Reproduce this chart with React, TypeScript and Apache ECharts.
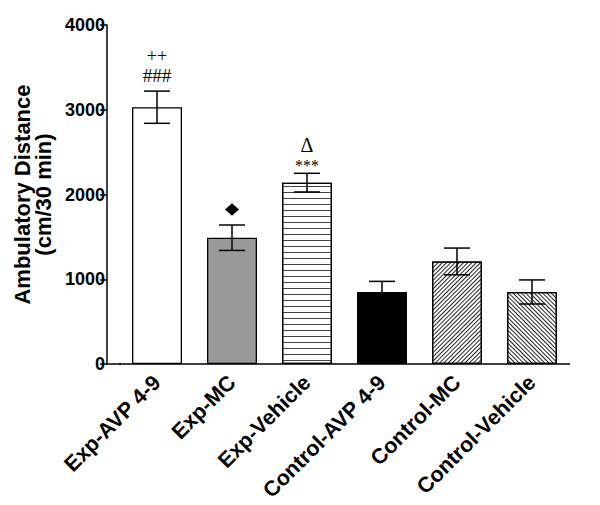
import React, { useEffect, useRef } from "react";
import * as echarts from "echarts";

const categories = [
  "Exp-AVP 4-9",
  "Exp-MC",
  "Exp-Vehicle",
  "Control-AVP 4-9",
  "Control-MC",
  "Control-Vehicle",
];
const means = [3030, 1490, 2140, 850, 1210, 850];
const sems = [190, 150, 110, 125, 158, 142];
// significance marks, listed from the one nearest the error bar upward
const marks: string[][] = [["###", "++"], ["◆"], ["***", "Δ"], [], [], []];
const yMin = 0;
const yMax = 4000;
const yInterval = 1000;

const SERIF = "'Liberation Serif', 'Times New Roman', serif";
const SANS = "'Liberation Sans', Arial, sans-serif";

const markStyle: Record<string, { size: number; dy: number }> = {
  "###": { size: 19, dy: -16 },
  "++": { size: 18, dy: -35 },
  "***": { size: 16, dy: -8 },
  "Δ": { size: 20, dy: -28 },
  "◆": { size: 0, dy: -15.5 },
};

const barStyles: any[] = [
  { color: "#ffffff" },
  { color: "#999999" },
  {
    color: "#ffffff",
    decal: {
      symbol: "rect",
      symbolSize: 1,
      dashArrayX: [[4, 0]],
      dashArrayY: [1, 5],
      rotation: 0,
      color: "#444444",
    },
  },
  { color: "#000000" },
  {
    color: "#ffffff",
    decal: {
      symbol: "rect",
      symbolSize: 1,
      dashArrayX: [[4, 0]],
      dashArrayY: [0.9, 1.9],
      rotation: -Math.PI / 4,
      color: "#222222",
    },
  },
  {
    color: "#ffffff",
    decal: {
      symbol: "rect",
      symbolSize: 1,
      dashArrayX: [[4, 0]],
      dashArrayY: [0.9, 1.9],
      rotation: Math.PI / 4,
      color: "#222222",
    },
  },
];

export default function App() {
  const ref = useRef<HTMLDivElement>(null);
  useEffect(() => {
    if (!ref.current) return;
    const chart = echarts.init(ref.current, undefined, { renderer: "svg" });
    const option: any = {
      animation: false,
      backgroundColor: "#ffffff",
      grid: { left: 119.5, width: 450, top: 25, height: 339, containLabel: false },
      xAxis: {
        type: "category",
        data: categories,
        axisLine: { show: true, lineStyle: { color: "#000", width: 1.5 } },
        axisTick: { show: false },
        axisLabel: {
          interval: 0,
          rotate: 45,
          margin: 15,
          fontFamily: SANS,
          fontWeight: "bold",
          fontSize: 21.5,
          color: "#000",
        },
      },
      yAxis: {
        type: "value",
        min: yMin,
        max: yMax,
        interval: yInterval,
        offset: 12.5,
        name: "Ambulatory Distance\n(cm/30 min)",
        nameLocation: "middle",
        nameRotate: 90,
        nameGap: 37,
        nameTextStyle: {
          fontFamily: SANS,
          fontWeight: "bold",
          fontSize: 22,
          lineHeight: 21,
          color: "#000",
        },
        axisLine: { show: true, lineStyle: { color: "#000", width: 1.5 } },
        axisTick: { show: true, length: 7, lineStyle: { color: "#000", width: 1.5 } },
        axisLabel: {
          margin: 2,
          fontFamily: SANS,
          fontWeight: "bold",
          fontSize: 18,
          color: "#000",
          formatter: (v: number) => String(v),
        },
        splitLine: { show: false },
      },
      graphic: [
        {
          type: "line",
          shape: { x1: 106, y1: 364, x2: 121, y2: 364 },
          style: { stroke: "#000", lineWidth: 1.5 },
          z: 10,
        },
      ],
      series: [
        {
          type: "bar",
          barWidth: 50,
          data: means.map((v, i) => ({
            value: v,
            itemStyle: { ...barStyles[i], borderColor: "#000", borderWidth: 1.3 },
          })),
        },
        {
          type: "custom",
          z: 5,
          data: means.map((m, i) => [i, m, sems[i]]),
          renderItem: (params: any, api: any) => {
            const x = api.value(0);
            const m = api.value(1);
            const s = api.value(2);
            const top = api.coord([x, m + s]);
            const bot = api.coord([x, m - s]);
            const hw = 13;
            const st = { stroke: "#000", lineWidth: 1.5 };
            return {
              type: "group",
              children: [
                { type: "line", shape: { x1: top[0], y1: top[1], x2: bot[0], y2: bot[1] }, style: st },
                { type: "line", shape: { x1: top[0] - hw, y1: top[1], x2: top[0] + hw, y2: top[1] }, style: st },
                { type: "line", shape: { x1: bot[0] - hw, y1: bot[1], x2: bot[0] + hw, y2: bot[1] }, style: st },
              ],
            };
          },
        },
        {
          type: "custom",
          z: 6,
          data: means.map((m, i) => [i, m + sems[i]]),
          renderItem: (params: any, api: any) => {
            const i = params.dataIndex;
            const p = api.coord([api.value(0), api.value(1)]);
            const children: any[] = [];
            marks[i].forEach((t) => {
              const ms = markStyle[t];
              if (t === "◆") {
                const cx = p[0];
                const cy = p[1] + ms.dy;
                children.push({
                  type: "polygon",
                  shape: { points: [[cx, cy - 6.3], [cx + 7, cy], [cx, cy + 6.3], [cx - 7, cy]] },
                  style: { fill: "#000" },
                });
              } else {
                children.push({
                  type: "text",
                  x: p[0],
                  y: p[1] + ms.dy,
                  style: {
                    text: t,
                    fontFamily: SERIF,
                    fontSize: ms.size,
                    fill: "#000",
                    align: "center",
                    verticalAlign: "middle",
                  },
                });
              }
            });
            return { type: "group", children };
          },
        },
      ],
    };
    chart.setOption(option);
    return () => chart.dispose();
  }, []);
  return (
    <div
      ref={ref}
      style={{ position: "fixed", left: 0, top: 0, width: 600, height: 505, background: "#fff" }}
    />
  );
}
